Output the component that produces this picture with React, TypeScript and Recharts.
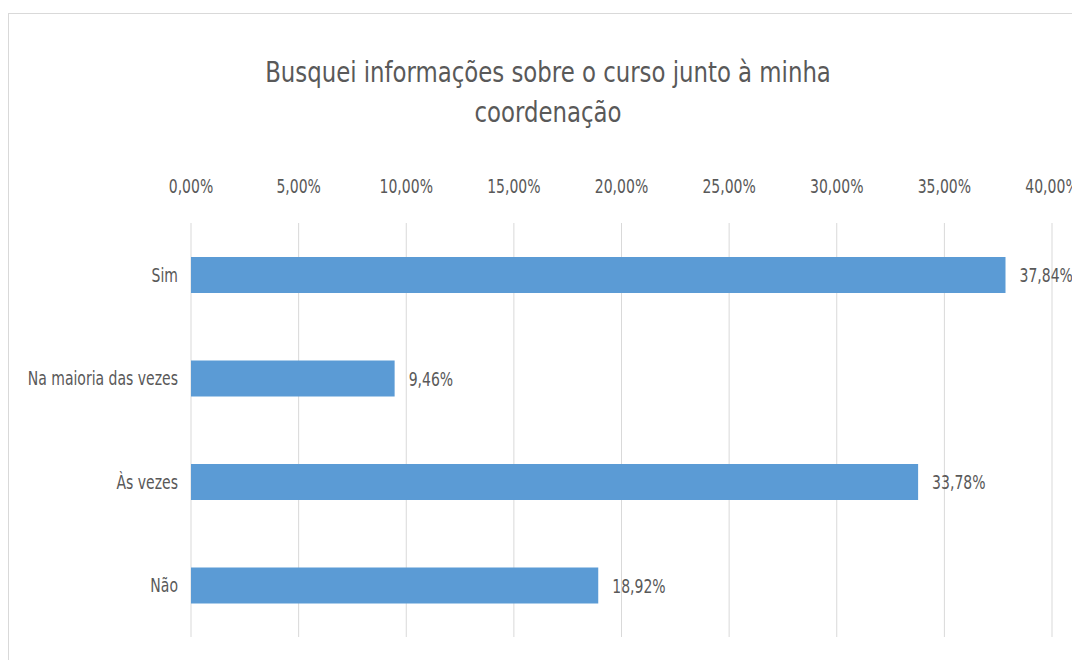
import { BarChart, Bar, XAxis, YAxis, CartesianGrid, LabelList } from "recharts"

const categories = ["Sim", "Na maioria das vezes", "Às vezes", "Não"]
const values = [37.84, 9.46, 33.78, 18.92]
const xTicks = [0, 5, 10, 15, 20, 25, 30, 35, 40]

const data = categories.map((name, i) => ({ name, value: values[i] }))

const FONT = "'DejaVu Sans Condensed', 'DejaVu Sans', sans-serif"
const TEXT = "#595959"
const SX = 0.82

const pct = (v: number) => `${v.toFixed(2).replace(".", ",")}%`

// narrow, tall text like the Calibri in the original
const NarrowText = ({ x, y, anchor, children }: any) => (
  <text
    transform={`translate(${x},${y}) scale(${SX},1)`}
    textAnchor={anchor}
    fill={TEXT}
    fontSize={19}
    fontFamily={FONT}
  >
    {children}
  </text>
)

const XTick = ({ x, y, payload }: any) => (
  <NarrowText x={x} y={y - 2} anchor="middle">{pct(payload.value)}</NarrowText>
)

const YTick = ({ x, y, payload }: any) => (
  <NarrowText x={x} y={y + 7} anchor="end">{payload.value}</NarrowText>
)

const ValueLabel = ({ x, y, width, height, value }: any) => (
  <NarrowText x={x + width + 14} y={y + height / 2 + 7} anchor="start">{pct(Number(value))}</NarrowText>
)

export default function App() {
  return (
    <div style={{ position: "absolute", left: 0, top: 0, width: 1072, height: 660, background: "#fff", overflow: "hidden", fontFamily: FONT }}>
      <div style={{ position: "absolute", left: 8, top: 13, width: 1100, height: 700, borderLeft: "1px solid #d9d9d9", borderTop: "1px solid #d9d9d9" }} />
      <div style={{ position: "absolute", left: 0, width: 1096, top: 52, textAlign: "center", color: TEXT, fontSize: 29, lineHeight: "40px", transform: "scaleX(0.875)", transformOrigin: "548px 0" }}>
        Busquei informações sobre o curso junto à minha
        <br />
        coordenação
      </div>
      <BarChart
        width={1072}
        height={660}
        data={data}
        layout="vertical"
        margin={{ top: 183, right: 20, bottom: 23, left: 0 }}
        barSize={36}
      >
        <CartesianGrid horizontal={false} stroke="#d9d9d9" />
        <XAxis
          type="number"
          orientation="top"
          domain={[0, 40]}
          ticks={xTicks}
          axisLine={false}
          tickLine={false}
          tickSize={0}
          tickMargin={28}
          height={40}
          tick={<XTick />}
        />
        <YAxis
          type="category"
          dataKey="name"
          width={191}
          axisLine={false}
          tickLine={false}
          tickSize={0}
          tickMargin={13}
          tick={<YTick />}
        />
        <Bar dataKey="value" fill="#5b9bd5" isAnimationActive={false}>
          <LabelList dataKey="value" content={<ValueLabel />} />
        </Bar>
      </BarChart>
    </div>
  )
}
